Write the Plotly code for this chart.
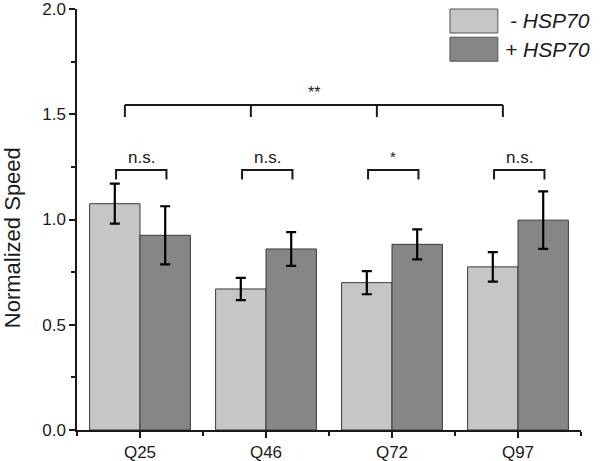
import plotly.graph_objects as go

categories = ["Q25", "Q46", "Q72", "Q97"]
minus_hsp70 = [1.075, 0.67, 0.70, 0.775]
minus_hsp70_err = [0.095, 0.053, 0.055, 0.07]
plus_hsp70 = [0.925, 0.86, 0.882, 0.997]
plus_hsp70_err = [0.138, 0.08, 0.071, 0.137]
pair_labels = ["n.s.", "n.s.", "*", "n.s."]
overall_label = "**"
series_names = ["- HSP70", "+ HSP70"]
y_title = "Normalized Speed"

FONT = "Arial, Liberation Sans, sans-serif"
LIGHT = "#c6c6c6"
DARK = "#868686"
EDGE = "#3a3a3a"
INK = "#1a1a1a"

xs = list(range(len(categories)))

fig = go.Figure()
for vals, errs, col, name in [(minus_hsp70, minus_hsp70_err, LIGHT, series_names[0]),
                              (plus_hsp70, plus_hsp70_err, DARK, series_names[1])]:
    fig.add_trace(go.Bar(
        x=xs, y=vals, name=name, marker=dict(color=col, line=dict(color=EDGE, width=1)),
        error_y=dict(type="data", array=errs, visible=True, color="#000", thickness=2.2, width=5),
        showlegend=False,
    ))

shapes = []
# pairwise brackets over each group
b_top, b_bot = 1.235, 1.19
for i in xs:
    x0, x1 = i - 0.19, i + 0.21
    shapes.append(dict(type="path", xref="x", yref="y",
                       path=f"M {x0},{b_bot} L {x0},{b_top} L {x1},{b_top} L {x1},{b_bot}",
                       line=dict(color=INK, width=2)))
# overall bracket
o_top, o_bot = 1.544, 1.487
leg_x = [i - 0.12 for i in xs]
shapes.append(dict(type="line", xref="x", yref="y", x0=leg_x[0], x1=leg_x[-1], y0=o_top, y1=o_top,
                   line=dict(color=INK, width=2)))
for lx in leg_x:
    shapes.append(dict(type="line", xref="x", yref="y", x0=lx, x1=lx, y0=o_bot, y1=o_top,
                       line=dict(color=INK, width=2)))

annotations = []
for i, lab in zip(xs, pair_labels):
    annotations.append(dict(x=i + 0.01, y=b_top, xref="x", yref="y", text=lab, showarrow=False,
                            yanchor="bottom", yshift=1 if lab != "*" else 3,
                            font=dict(family=FONT, size=17 if lab != "*" else 15, color=INK)))
annotations.append(dict(x=(leg_x[0] + leg_x[-1]) / 2, y=o_top, xref="x", yref="y", text=overall_label,
                        showarrow=False, yanchor="bottom", yshift=2,
                        font=dict(family=FONT, size=16, color=INK)))

# y-axis title (placed as in the reference, slightly below the plot centre)
annotations.append(dict(x=-0.129, y=0.458, xref="paper", yref="paper", text=y_title, showarrow=False,
                        textangle=-90, xanchor="center", yanchor="middle",
                        font=dict(family=FONT, size=22, color=INK)))

# manual legend
leg_rows = [(1.0, 0.943, LIGHT, series_names[0]), (0.933, 0.876, DARK, series_names[1])]
for y1, y0, col, name in leg_rows:
    shapes.append(dict(type="rect", xref="paper", yref="paper", x0=0.740, x1=0.835, y0=y0, y1=y1,
                       fillcolor=col, line=dict(color="#555", width=1)))
    annotations.append(dict(x=1.022, y=(y0 + y1) / 2, xref="paper", yref="paper",
                            text=f"<i>{name}</i>", showarrow=False, xanchor="right", yanchor="middle",
                            font=dict(family=FONT, size=21, color=INK)))

fig.update_layout(
    width=600, height=461,
    margin=dict(l=77, r=19, t=9, b=31),
    paper_bgcolor="white", plot_bgcolor="white",
    barmode="group", bargap=0.2, bargroupgap=0,
    shapes=shapes, annotations=annotations,
    font=dict(family=FONT, color=INK),
    showlegend=False,
)
fig.update_xaxes(
    range=[-0.5, 3.5], tickvals=xs, ticktext=categories, automargin=False,
    showline=True, linecolor=INK, linewidth=1.5, ticks="outside", ticklen=6, tickwidth=1.5,
    tickcolor=INK, showgrid=False, zeroline=False, tickfont=dict(family=FONT, size=17, color=INK),
    minor=dict(tick0=0.5, dtick=1, ticks="outside", ticklen=4, tickwidth=1.5, tickcolor=INK),
)
fig.update_yaxes(
    range=[0, 2], dtick=0.5, tickformat=".1f", automargin=False, ticklabeloverflow="allow",
    showline=True, linecolor=INK, linewidth=1.5, ticks="outside", ticklen=6, tickwidth=1.5,
    tickcolor=INK, showgrid=False, zeroline=False, tickfont=dict(family=FONT, size=17, color=INK),
    minor=dict(dtick=0.25, ticks="outside", ticklen=4, tickwidth=1.5, tickcolor=INK),
)

fig.write_html("out.html", config={"displayModeBar": False},
               post_script="document.body.style.margin='0';document.body.style.overflow='hidden';")
